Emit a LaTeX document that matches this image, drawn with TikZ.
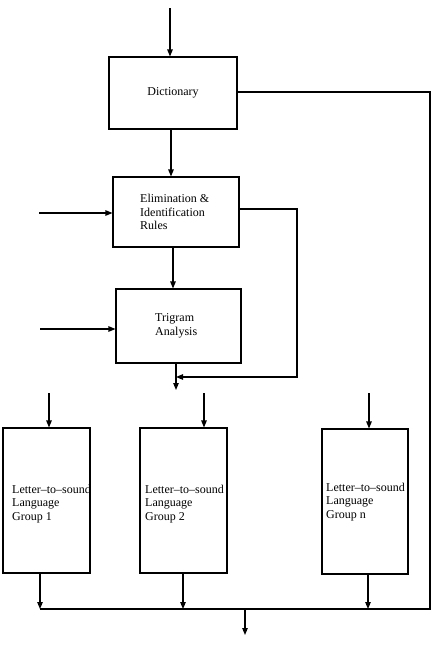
\documentclass[tikz,border=0pt]{standalone}
\usepackage{fontspec}
\setmainfont{Liberation Serif}
\usetikzlibrary{arrows.meta}
\begin{document}
\begin{tikzpicture}[x=1pt,y=-1pt,
  every node/.style={font=\fontsize{12}{13.8}\selectfont},
  block/.style={draw,line width=1.1pt,inner sep=0pt},
  label text/.style={align=left,inner sep=0pt},
  wire/.style={line width=1.1pt},
  flow/.style={line width=1.1pt,-{Triangle[length=7pt,width=5.5pt]}}]
\useasboundingbox (0,0) rectangle (440,646);

% processing chain
\node[block,minimum width=128pt,minimum height=72pt] (dict) at (173,93) {Dictionary};
\node[block,minimum width=126pt,minimum height=70pt] (elim) at (176,212) {};
\node[label text,anchor=west] (elimtxt) at (140,212) {Elimination \&\\Identification\\Rules};
\node[block,minimum width=125pt,minimum height=74pt] (trig) at (178.5,326) {};
\node[label text,anchor=west] (trigtxt) at (155,326) {Trigram\\Analysis};

% letter-to-sound groups
\node[block,minimum width=87pt,minimum height=145pt] (g1) at (46.5,500.5) {};
\node[block,minimum width=87pt,minimum height=145pt] (g2) at (183.5,500.5) {};
\node[block,minimum width=86pt,minimum height=145pt] (gn) at (365,501.5) {};
\node[label text,anchor=west] (g1txt) at (12,504) {Letter--to--sound\\Language\\Group 1};
\node[label text,anchor=west] (g2txt) at (145,504) {Letter--to--sound\\Language\\Group 2};
\node[label text,anchor=west] (gntxt) at (326,502) {Letter--to--sound\\Language\\Group n};

% free ends
\coordinate (in) at (170,8);
\coordinate (inE) at (39,213);
\coordinate (inT) at (40,329);
\coordinate (eR) at (297,209);
\coordinate (eB) at (297,377);
\coordinate (mid) at (176,377);
\coordinate (tout) at (176,390);
\coordinate (dR) at (430,92);
\coordinate (bR) at (430,609);
\coordinate (bL) at (40,609);
\coordinate (in1) at (49,393);
\coordinate (in2) at (204,393);
\coordinate (inn) at (369,393);
\coordinate (out) at (245,635);

% connectors
\draw[flow] (in) -- (in |- dict.north);
\draw[flow] (dict.south -| 171,0) -- (elim.north -| 171,0);
\draw[flow] (inE) -- (inE -| elim.west);
\draw[flow] (elim.south -| 173,0) -- (trig.north -| 173,0);
\draw[flow] (inT) -- (inT -| trig.west);
\draw[flow] (eR -| elim.east) -- (eR) -- (eB) -- (mid);
\draw[flow] (trig.south -| tout) -- (tout);
\draw[wire] (dR -| dict.east) -- (dR) -- (bR) -- (bL);
\draw[flow] (in1) -- (in1 |- g1.north);
\draw[flow] (in2) -- (in2 |- g2.north);
\draw[flow] (inn) -- (inn |- gn.north);
\draw[flow] (g1.south -| bL) -- (bL);
\draw[flow] (g2.south -| 183,0) -- (183,609);
\draw[flow] (gn.south -| 368,0) -- (368,609);
\draw[flow] (out |- bL) -- (out);
\end{tikzpicture}
\end{document}
